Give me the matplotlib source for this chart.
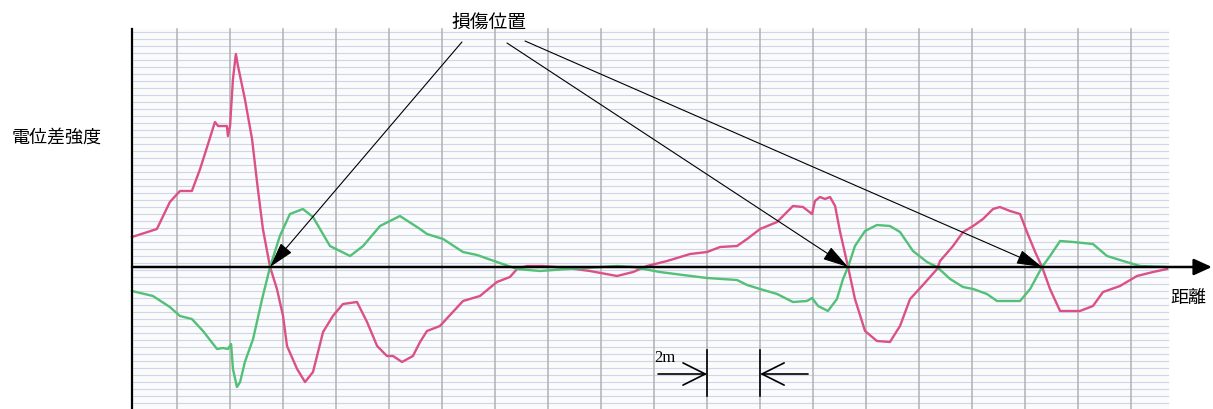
import numpy as np
import matplotlib
matplotlib.use('Agg')
import matplotlib.pyplot as plt

plt.rcParams['font.family'] = ['Noto Sans CJK JP', 'DejaVu Sans']

# distance along the pipe (m) and potential difference (arbitrary units)
red_x = [0.0, 0.94, 1.43, 1.81, 2.26, 2.57, 2.87, 3.13, 3.25, 3.58, 3.62, 3.70, 3.81,
         3.92, 4.00, 4.26, 4.53, 4.75, 4.94, 5.21, 5.47, 5.70, 5.85, 6.23, 6.53, 6.83,
         7.21, 7.58, 7.96, 8.49, 8.87, 9.25, 9.62, 9.85, 10.19, 10.60, 10.87, 11.13,
         11.62, 12.49, 13.13, 13.77, 14.26, 14.53, 14.91, 15.51, 16.42, 17.28, 18.30,
         18.91, 19.43, 20.19, 21.06, 21.70, 22.19, 22.83, 23.21, 23.70, 24.34, 24.94,
         25.32, 25.66, 25.77, 25.96, 26.15, 26.34, 26.53, 26.72, 27.02, 27.28, 27.66,
         28.11, 28.60, 28.98, 29.36, 29.81, 30.38, 30.49, 30.98, 31.36, 31.74, 32.11,
         32.49, 32.75, 33.13, 33.51, 33.77, 34.08, 34.34, 34.64, 35.02, 35.77, 36.26,
         36.64, 37.28, 37.92, 38.53, 39.06]
red_y = [3.0, 3.8, 6.5, 7.6, 7.6, 9.8, 12.3, 14.5, 14.1, 14.1, 13.1, 14.1, 18.8,
         21.3, 20.1, 16.8, 12.8, 7.8, 3.8, 0.0, -2.2, -4.9, -7.9, -10.2, -11.5, -10.5,
         -6.5, -4.9, -3.7, -3.5, -5.5, -7.9, -8.9, -8.9, -9.5, -8.9, -7.5, -6.4,
         -5.9, -3.4, -2.9, -1.5, -1.0, -0.2, 0.1, 0.1, -0.1, -0.4, -0.9,
         -0.5, 0.1, 0.6, 1.3, 1.5, 2.0, 2.1, 2.8, 3.8, 4.5, 6.1,
         6.0, 5.3, 6.6, 7.0, 6.8, 7.0, 6.1, 3.5, 0.0, -3.2, -6.4,
         -7.4, -7.5, -5.9, -3.2, -1.9, -0.2, 0.6, 2.1, 3.5, 4.1, 4.8,
         5.8, 6.0, 5.6, 5.3, 3.5, 1.5, 0.0, -2.2, -4.4, -4.4, -3.9,
         -2.5, -1.9, -0.9, -0.5, -0.2]

green_x = [0.0, 0.79, 1.43, 1.81, 2.26, 2.68, 3.21, 3.43, 3.62, 3.74, 3.81, 3.96, 4.08,
           4.26, 4.57, 4.91, 5.21, 5.58, 5.96, 6.45, 6.83, 7.47, 8.23, 8.72, 9.36,
           10.11, 10.87, 11.13, 11.74, 12.49, 13.02, 13.77, 14.53, 15.40, 16.42, 17.17,
           18.30, 18.91, 19.92, 20.79, 21.70, 22.83, 23.21, 23.70, 24.34, 24.94, 25.47,
           25.66, 25.89, 26.26, 26.60, 26.83, 27.02, 27.28, 27.66, 28.11, 28.60, 28.98,
           29.47, 30.00, 30.38, 30.87, 31.36, 31.74, 32.26, 32.64, 33.13, 33.51, 33.89,
           34.34, 34.64, 35.02, 35.51, 36.26, 36.79, 37.40, 38.04, 39.06]
green_y = [-2.4, -2.9, -4.0, -4.9, -5.2, -6.4, -8.2, -8.1, -8.2, -7.7, -10.2, -12.0, -11.5,
           -9.5, -7.2, -3.2, 0.0, 3.1, 5.3, 5.8, 5.0, 2.1, 1.1, 2.1, 4.1,
           5.1, 3.8, 3.3, 2.8, 1.5, 1.2, 0.5, -0.2, -0.4, -0.2, -0.1,
           0.1, 0.0, -0.5, -0.8, -1.1, -1.3, -1.8, -2.2, -2.7, -3.5, -3.4,
           -3.1, -3.9, -4.4, -3.2, -1.2, 0.0, 2.1, 3.6, 4.2, 4.1, 3.5,
           1.6, 0.5, 0.0, -1.2, -2.0, -2.2, -2.7, -3.4, -3.4, -3.4, -2.2,
           0.0, 1.1, 2.6, 2.5, 2.3, 1.1, 0.6, 0.1, 0.0]

damage_pos = [5.21, 27.02, 34.34]
scale_start = 21.7
scale_len = 2.0

fig = plt.figure(figsize=(12.13, 4.10), dpi=100)
ax = fig.add_axes([0, 0, 1, 1])
ax.set_xlim(-4.98, 40.79)
ax.set_ylim(-14.2, 26.8)
ax.axis('off')

# chart paper
paper_right = 39.09
paper_top = 23.8
ax.fill_between([0, paper_right], -14.2, paper_top, color='#fafbfb', zorder=0)
for gy in np.arange(23.5, -14.3, -0.7):
  ax.plot([0, paper_right], [gy, gy], color='#d2d4ec', lw=0.8, zorder=1)
for gx in np.arange(1.7, 38.0, 2.0):
  ax.plot([gx, gx], [-14.2, paper_top], color='#b0b2b2', lw=1.1, zorder=1)

ax.plot(red_x, red_y, color='#dc5088', lw=1.7, zorder=3, solid_joinstyle='round')
ax.plot(green_x, green_y, color='#52c077', lw=1.7, zorder=3, solid_joinstyle='round')

# axes
ax.plot([0, 0], [-14.2, paper_top], color='black', lw=1.6, zorder=4)
ax.annotate('', xy=(40.75, 0), xytext=(0, 0),
            arrowprops=dict(arrowstyle='-|>,head_length=1.1,head_width=0.5',
                            color='black', lw=1.8, shrinkA=0, shrinkB=0), zorder=4)

ax.text(-2.85, 13.0, '電位差強度', fontsize=13, ha='center', va='center')
ax.text(39.85, -3.0, '距離', fontsize=13, ha='center', va='center')

# damage markers
starts = [(12.45, 22.5), (14.15, 22.4), (14.83, 22.6)]
for (sx, sy), dx in zip(starts, damage_pos):
  ax.annotate('', xy=(dx, 0), xytext=(sx, sy),
              arrowprops=dict(arrowstyle='-|>,head_length=1.6,head_width=0.45',
                              color='black', lw=0.8, shrinkA=0, shrinkB=0), zorder=5)
ax.text(13.45, 24.6, '損傷位置', fontsize=13.5, ha='center', va='center')

# 2m scale
bar_lo, bar_hi, arr_y = -12.9, -8.3, -10.7
for bx in [scale_start, scale_start + scale_len]:
  ax.plot([bx, bx], [bar_lo, bar_hi], color='black', lw=1.2, zorder=5)
ax.annotate('', xy=(scale_start, arr_y), xytext=(scale_start - 1.85, arr_y),
            arrowprops=dict(arrowstyle='->,head_length=1.6,head_width=0.8',
                            color='black', lw=1.2, shrinkA=0, shrinkB=0), zorder=5)
ax.annotate('', xy=(scale_start + scale_len, arr_y),
            xytext=(scale_start + scale_len + 1.81, arr_y),
            arrowprops=dict(arrowstyle='->,head_length=1.6,head_width=0.8',
                            color='black', lw=1.2, shrinkA=0, shrinkB=0), zorder=5)
ax.text(19.7, -9.0, '2m', fontsize=12, family='Liberation Serif', ha='left', va='center')

fig.savefig('out.png', dpi=100)
